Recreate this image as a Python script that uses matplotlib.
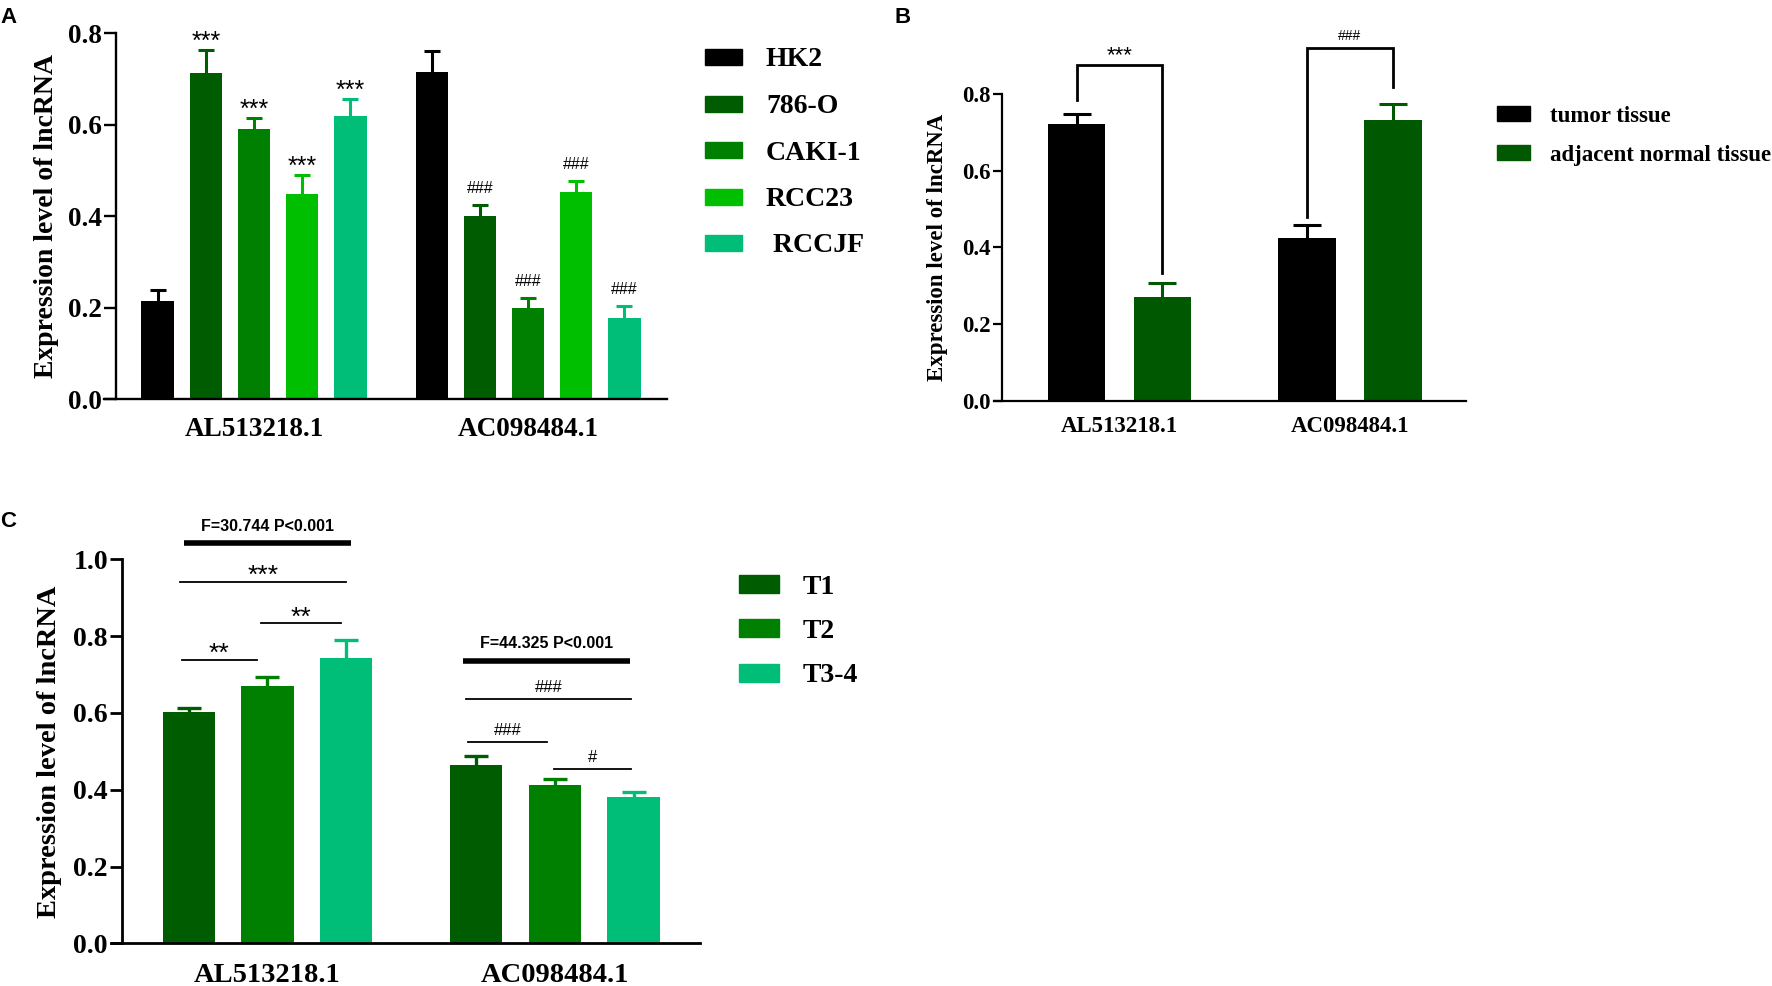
import matplotlib
matplotlib.use("Agg")
import matplotlib.pyplot as plt
from matplotlib.patches import Rectangle
import numpy as np

# ---------------- data ----------------
genes = ["AL513218.1", "AC098484.1"]

# Panel A
cell_lines = ["HK2", "786-O", "CAKI-1", "RCC23", " RCCJF"]
a_means = [[0.214, 0.713, 0.591, 0.448, 0.618],
           [0.716, 0.400, 0.200, 0.453, 0.177]]
a_errs = [[0.024, 0.050, 0.024, 0.042, 0.038],
          [0.045, 0.025, 0.021, 0.024, 0.027]]
a_sig = [["", "***", "***", "***", "***"],
         ["", "###", "###", "###", "###"]]
a_colors = ["#000000", "#005C00", "#008000", "#00BE00", "#00BE78"]

# Panel B
tissues = ["tumor tissue", "adjacent normal tissue"]
b_means = [[0.720, 0.270], [0.424, 0.731]]
b_errs = [[0.027, 0.036], [0.034, 0.042]]
b_colors = ["#000000", "#005800"]
b_sig = ["***", "###"]

# Panel C
stages = ["T1", "T2", "T3-4"]
c_means = [[0.603, 0.670, 0.744], [0.4635, 0.412, 0.381]]
c_errs = [[0.010, 0.024, 0.045], [0.023, 0.015, 0.012]]
c_colors = ["#005C00", "#008000", "#00BE78"]
c_anova = ["F=30.744 P<0.001", "F=44.325 P<0.001"]
c_pair_sig = [[("**", 0, 1), ("**", 1, 2), ("***", 0, 2)],
              [("###", 0, 1), ("#", 1, 2), ("###", 0, 2)]]

W, H = 1772, 986
SERIF = "Liberation Serif"
SANS = "Liberation Sans"

fig = plt.figure(figsize=(W / 100, H / 100), dpi=100)


def fx(px):
    return px / W


def fy(py):
    return 1 - py / H


def make_axes(left, right, y0, ytop):
    return fig.add_axes([fx(left), fy(y0), (right - left) / W, (y0 - ytop) / H])


def up_errbar(ax, x, m, e, color, lw, cap):
    _, caplines, _ = ax.errorbar(x, m, yerr=[[0], [e]], fmt="none", ecolor=color,
                                 elinewidth=lw, capsize=cap, capthick=lw, zorder=1)
    for cl in caplines:
        yd = np.asarray(cl.get_ydata(), dtype=float)
        if np.allclose(yd, m):
            cl.set_visible(False)


def style_axes(ax, ymax, yticks, fs, lw, ticklen, xext):
    for s in ["top", "right"]:
        ax.spines[s].set_visible(False)
    ax.spines["left"].set_linewidth(lw)
    ax.spines["bottom"].set_linewidth(lw)
    ax.set_ylim(0, ymax)
    ax.spines["left"].set_bounds(0, ymax)
    lo, hi = ax.get_xlim()
    ax.spines["bottom"].set_bounds(lo - xext, hi)
    ax.set_yticks(yticks)
    ax.set_yticklabels([f"{v:.1f}" for v in yticks], fontfamily=SERIF,
                       fontweight="bold", fontsize=fs)
    ax.tick_params(axis="y", length=ticklen, width=lw, pad=2)
    ax.tick_params(axis="x", length=0)


# ---------------- Panel A ----------------
axA = make_axes(116.5, 667, 399, 33.3)
gofs_a = 5.687
n_a = len(cell_lines)
for g in range(2):
    for i in range(n_a):
        x = g * gofs_a + i
        axA.bar(x, a_means[g][i], width=0.67, color=a_colors[i], zorder=2)
        up_errbar(axA, x, a_means[g][i], a_errs[g][i], a_colors[i], 2.2, 5.8)
        s = a_sig[g][i]
        if s:
            if s.startswith("*"):
                axA.annotate(s, (x, a_means[g][i] + a_errs[g][i]), xytext=(0, 1),
                             textcoords="offset points", ha="center", va="baseline",
                             fontsize=18, fontfamily=SANS)
            else:
                axA.annotate(s, (x, a_means[g][i] + a_errs[g][i]), xytext=(0, 8.5),
                             textcoords="offset points", ha="center", va="baseline",
                             fontsize=11.5, fontfamily=SANS)
axA.set_xlim(-0.853, 10.57)
style_axes(axA, 0.8, [0.0, 0.2, 0.4, 0.6, 0.8], 19.5, 1.7, 8.6, 0.25)
axA.set_xticks([(n_a - 1) / 2, gofs_a + (n_a - 1) / 2])
axA.set_xticklabels(genes, fontfamily=SERIF, fontweight="bold", fontsize=19.5)
axA.tick_params(axis="x", pad=13)
axA.set_ylabel("Expression level of lncRNA", fontfamily=SERIF, fontweight="bold",
               fontsize=20, labelpad=6)

for i, lab in enumerate(cell_lines):
    cy = 57 + i * 46.5
    fig.patches.append(Rectangle((fx(705), fy(cy + 8)), 37 / W, 16 / H,
                                 transform=fig.transFigure, color=a_colors[i]))
    fig.text(fx(766), fy(cy + 9.5), lab, fontfamily=SERIF, fontweight="bold",
             fontsize=20, va="baseline", ha="left")

# ---------------- Panel B ----------------
axB = make_axes(1002.3, 1466, 401, 93.7)
gofs_b = 2.683
for g in range(2):
    for i in range(2):
        x = g * gofs_b + i
        axB.bar(x, b_means[g][i], width=0.67, color=b_colors[i], zorder=2)
        up_errbar(axB, x, b_means[g][i], b_errs[g][i], b_colors[i], 2.2, 10)
axB.set_xlim(-0.864, 4.534)
style_axes(axB, 0.8, [0.0, 0.2, 0.4, 0.6, 0.8], 16.5, 1.6, 6.2, 0.1)
axB.set_xticks([0.5, gofs_b + 0.5])
axB.set_xticklabels(genes, fontfamily=SERIF, fontweight="bold", fontsize=16.5)
axB.tick_params(axis="x", pad=11)
axB.set_ylabel("Expression level of lncRNA", fontfamily=SERIF, fontweight="bold",
               fontsize=16.5, labelpad=10)

# brackets
br = [(0.8747, 0.7836, 0.333), (0.918, 0.480, 0.818)]
for g in range(2):
    top, l_end, r_end = br[g]
    x0, x1 = g * gofs_b, g * gofs_b + 1
    axB.plot([x0, x0, x1, x1], [l_end, top, top, r_end], color="black", lw=2.0,
             clip_on=False, solid_joinstyle="miter")
    if g == 0:
        axB.annotate(b_sig[g], ((x0 + x1) / 2, top), xytext=(0, 2.5),
                     textcoords="offset points", ha="center", va="baseline",
                     fontsize=16, fontfamily=SANS, annotation_clip=False)
    else:
        axB.annotate(b_sig[g], ((x0 + x1) / 2, top), xytext=(0, 6),
                     textcoords="offset points", ha="center", va="baseline",
                     fontsize=10, fontfamily=SANS, annotation_clip=False)

for i, lab in enumerate(tissues):
    cy = [113.5, 152.5][i]
    fig.patches.append(Rectangle((fx(1497), fy(cy + 7)), 33 / W, 14 / H,
                                 transform=fig.transFigure, color=b_colors[i]))
    fig.text(fx(1550), fy(cy + 8), lab, fontfamily=SERIF, fontweight="bold",
             fontsize=16.5, va="baseline", ha="left")

# ---------------- Panel C ----------------
axC = make_axes(122.3, 700, 943.3, 559.3)
gofs_c = 3.657
for g in range(2):
    for i in range(3):
        x = g * gofs_c + i
        axC.bar(x, c_means[g][i], width=0.664, color=c_colors[i], zorder=2)
        up_errbar(axC, x, c_means[g][i], c_errs[g][i], c_colors[i], 2.4, 8.3)
axC.set_xlim(-0.847, 6.503)
style_axes(axC, 1.0, [0.0, 0.2, 0.4, 0.6, 0.8, 1.0], 20, 2.0, 8.3, 0.15)
axC.set_xticks([1, gofs_c + 1])
axC.set_xticklabels(genes, fontfamily=SERIF, fontweight="bold", fontsize=20.5)
axC.tick_params(axis="x", pad=14)
axC.set_ylabel("Expression level of lncRNA", fontfamily=SERIF, fontweight="bold",
               fontsize=20.5, labelpad=8)

# annotations (line heights, data units)
anova_bar_y = [1.0417, 0.736]
anova_txt_y = [1.0745, 0.768]
anova_x = [(-0.066, 2.06), (3.49, 5.61)]
pair_y = [[0.739, 0.833, 0.942], [0.524, 0.455, 0.636]]
pair_x = [[(-0.088, 0.861), (0.92, 1.93), (-0.11, 2.0)],
          [(3.546, 4.56), (4.64, 5.63), (3.52, 5.63)]]
for g in range(2):
    xa, xb = anova_x[g]
    axC.plot([xa, xb], [anova_bar_y[g]] * 2, color="black", lw=4.0,
             solid_capstyle="butt", clip_on=False)
    axC.text((xa + xb) / 2, anova_txt_y[g], c_anova[g], ha="center", va="baseline",
             fontsize=11.5, fontweight="bold", fontfamily=SANS, clip_on=False)
    for k, (lab, i0, i1) in enumerate(c_pair_sig[g]):
        xa, xb = pair_x[g][k]
        yy = pair_y[g][k]
        axC.plot([xa, xb], [yy, yy], color="black", lw=1.3, clip_on=False)
        if lab.startswith("*"):
            axC.annotate(lab, ((xa + xb) / 2, yy), xytext=(0, -1),
                         textcoords="offset points", ha="center", va="baseline",
                         fontsize=19, fontfamily=SANS, annotation_clip=False)
        else:
            axC.annotate(lab, ((xa + xb) / 2, yy), xytext=(0, 5),
                         textcoords="offset points", ha="center", va="baseline",
                         fontsize=12, fontfamily=SANS, annotation_clip=False)

for i, lab in enumerate(stages):
    cy = [584, 628, 673][i]
    fig.patches.append(Rectangle((fx(739), fy(cy + 9)), 40 / W, 18 / H,
                                 transform=fig.transFigure, color=c_colors[i]))
    fig.text(fx(802.5), fy(cy + 9.5), lab, fontfamily=SERIF, fontweight="bold",
             fontsize=20, va="baseline", ha="left")

# panel letters
for lab, x, y in [("A", 0, 23), ("B", 894, 23), ("C", 0, 527)]:
    fig.text(fx(x), fy(y), lab, fontfamily=SANS, fontweight="bold", fontsize=16,
             va="baseline", ha="left")

fig.savefig("out.png", dpi=100)
